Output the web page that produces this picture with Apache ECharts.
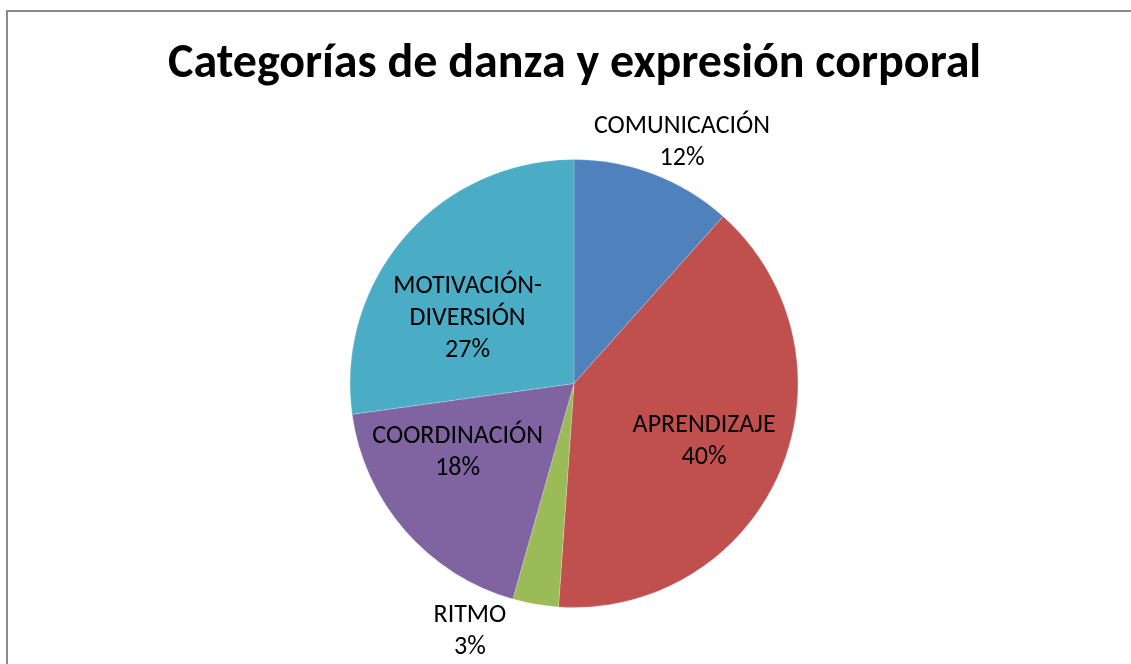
<!DOCTYPE html>
<html>
<head>
<meta charset="utf-8">
<script src="https://cdn.jsdelivr.net/npm/echarts@6/dist/echarts.min.js"></script>
<style>
  html, body { margin: 0; padding: 0; background: #fff; overflow: hidden; }
  #frame { position: absolute; left: 6px; top: 10px; width: 1300px; height: 800px; border: 2px solid #8a8a8a; }
  #main { position: absolute; left: 0; top: 0; width: 1131px; height: 664px; }
</style>
</head>
<body>
<div id="frame"></div>
<div id="main"></div>
<script>
  // Data (slice shares, %)
  const categories = ['COMUNICACIÓN', 'APRENDIZAJE', 'RITMO', 'COORDINACIÓN', 'MOTIVACIÓN-DIVERSIÓN'];
  const values = [11.6, 39.5, 3.3, 18.4, 27.2];
  const colors = ['#4f81bd', '#c0504d', '#9bbb59', '#8064a2', '#4bacc6'];

  const cx = 574, cy = 383.5, radius = 224;
  // label placement: [radius factor, angle nudge in degrees]
  const labelPlace = [[1.177, 3.3], [0.635, 1.0], [1.199, 12.9], [0.603, 10.5], [0.556, -9.8]];

  const total = values.reduce((a, b) => a + b, 0);
  const midAngles = [];
  let acc = 0;
  values.forEach(v => {
    midAngles.push((acc + v / 2) / total * 360);
    acc += v;
  });

  const myChart = echarts.init(document.getElementById('main'));

  const option = {
    title: {
      text: 'Categorías de danza y expresión corporal',
      left: 163,
      top: 36,
      textStyle: {
        fontFamily: 'Carlito, Lato, sans-serif',
        fontSize: 48,
        fontWeight: 'bold',
        color: '#000'
      }
    },
    series: [
      {
        type: 'pie',
        center: [cx, cy],
        radius: radius,
        startAngle: 90,
        clockwise: true,
        silent: true,
        data: categories.map((name, i) => ({
          name: name,
          value: values[i],
          itemStyle: { color: colors[i] }
        })),
        itemStyle: { borderColor: 'rgba(255,255,255,0.35)', borderWidth: 0.6 },
        label: {
          show: true,
          position: 'inside',
          fontFamily: 'Carlito, Lato, sans-serif',
          fontSize: 26,
          lineHeight: 32,
          color: '#000',
          formatter: function (p) {
            return p.name.replace('-', '-\n') + '\n' + Math.round(p.value / total * 100) + '%';
          }
        },
        labelLine: { show: false },
        labelLayout: function (params) {
          const i = params.dataIndex;
          const a = (midAngles[i] + labelPlace[i][1]) * Math.PI / 180;
          const d = radius * labelPlace[i][0];
          return {
            x: cx + d * Math.sin(a),
            y: cy - d * Math.cos(a),
            align: 'center',
            verticalAlign: 'middle'
          };
        }
      }
    ]
  };

  myChart.setOption(option);
</script>
</body>
</html>
